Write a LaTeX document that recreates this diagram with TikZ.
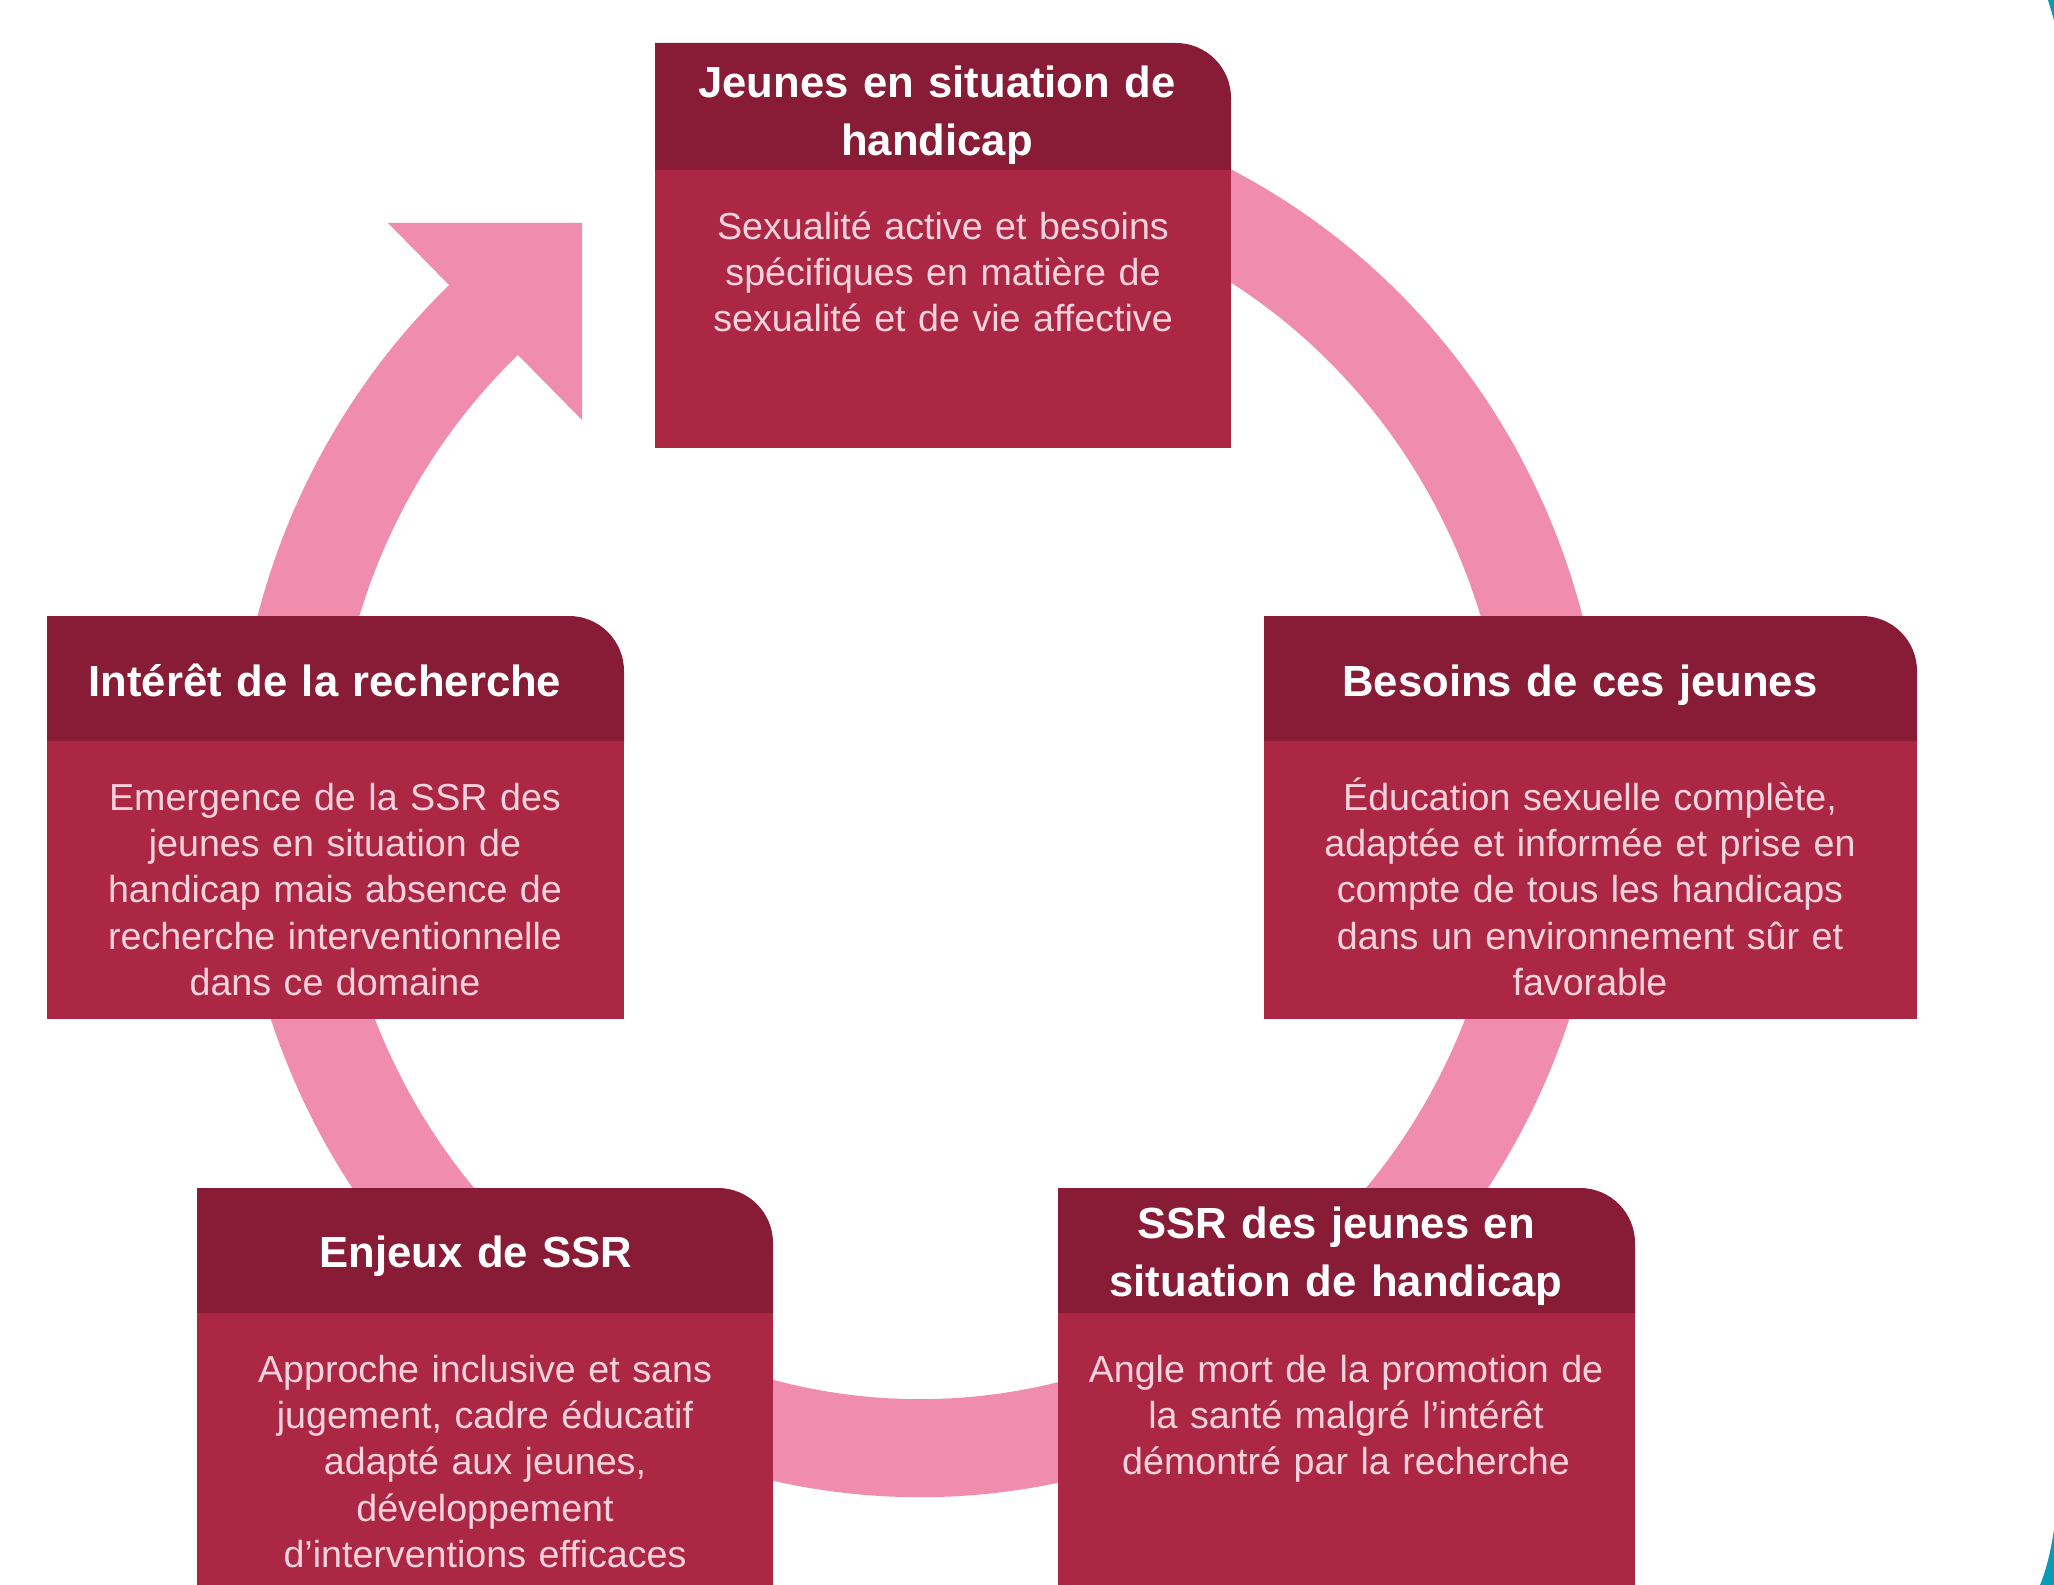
\documentclass[tikz,border=0pt]{standalone}
\usepackage{fontspec}
\setmainfont{Liberation Sans}
\definecolor{bordeaux}{HTML}{881B35}
\definecolor{framboise}{HTML}{AB2744}
\definecolor{rose}{HTML}{F08DAE}
\definecolor{rosepale}{HTML}{F6D3DC}
\definecolor{sarcelle}{HTML}{0A9CB6}
\begin{document}
\begin{tikzpicture}[x=0.01cm,y=-0.01cm,
    entete/.style={fill=bordeaux},
    corps/.style={fill=framboise},
    titre/.style={text=white,font=\fontsize{12.4}{16.6}\selectfont\bfseries,
        align=center,text width=5.5cm,inner sep=0pt},
    texte/.style={text=rosepale,font=\fontsize{10.7}{13.2}\selectfont,
        align=center,text width=5.6cm,inner sep=0pt,anchor=base}]
    \useasboundingbox (0,0) rectangle (2054,1585);
    \clip (0,0) rectangle (2054,1585);
    \fill[white] (0,0) rectangle (2054,1585);
    \fill[sarcelle] (2048,0) -- (2054,0) -- (2054,20) -- cycle;
    \fill[sarcelle] (2054,1530) .. controls (2050,1555) and (2046,1570) .. (2040,1585) -- (2054,1585) -- cycle;
    % anneau et fleche
    \draw[rose,line width=0.98cm] (920,795) ++(-70:636 and 653)
        arc[start angle=-70,end angle=229,x radius=636,y radius=653];
    \fill[rose] (582,223) -- (388,223) -- (582,420) -- cycle;
    % jeunes en situation de handicap
    \fill[corps] (655,170) rectangle (1231,448);
    \fill[entete] (655,170) -- (655,43) -- (1176,43) arc[start angle=-90,end angle=0,radius=55] -- (1231,170) -- cycle;
    \node[titre] (titreJ) at (937,115) {Jeunes en situation de\\handicap};
    \node[texte] (texteJ) at (943,239) {Sexualité active et besoins\\spécifiques en matière de\\sexualité et de vie affective};
    % interet de la recherche
    \fill[corps] (47,741) rectangle (624,1019);
    \fill[entete] (47,741) -- (47,616) -- (569,616) arc[start angle=-90,end angle=0,radius=55] -- (624,741) -- cycle;
    \node[titre] (titreI) at (325,680) {Intérêt de la recherche};
    \node[texte] (texteI) at (335,810) {Emergence de la SSR des\\jeunes en situation de\\handicap mais absence de\\recherche interventionnelle\\dans ce domaine};
    % besoins de ces jeunes
    \fill[corps] (1264,741) rectangle (1917,1019);
    \fill[entete] (1264,741) -- (1264,616) -- (1862,616) arc[start angle=-90,end angle=0,radius=55] -- (1917,741) -- cycle;
    \node[titre] (titreB) at (1580,685) {Besoins de ces jeunes};
    \node[texte,text width=6.3cm] (texteB) at (1590,810) {Éducation sexuelle complète,\\adaptée et informée et prise en\\compte de tous les handicaps\\dans un environnement sûr et\\favorable};
    % enjeux de SSR
    \fill[corps] (197,1313) rectangle (773,1600);
    \fill[entete] (197,1313) -- (197,1188) -- (718,1188) arc[start angle=-90,end angle=0,radius=55] -- (773,1313) -- cycle;
    \node[titre] (titreE) at (476,1256) {Enjeux de SSR};
    \node[texte] (texteE) at (485,1382) {Approche inclusive et sans\\jugement, cadre éducatif\\adapté aux jeunes,\\développement\\d’interventions efficaces};
    % SSR des jeunes
    \fill[corps] (1058,1313) rectangle (1635,1600);
    \fill[entete] (1058,1313) -- (1058,1188) -- (1580,1188) arc[start angle=-90,end angle=0,radius=55] -- (1635,1313) -- cycle;
    \node[titre] (titreS) at (1336,1256) {SSR des jeunes en\\situation de handicap};
    \node[texte] (texteS) at (1346,1382) {Angle mort de la promotion de\\la santé malgré l’intérêt\\démontré par la recherche};
\end{tikzpicture}
\end{document}
